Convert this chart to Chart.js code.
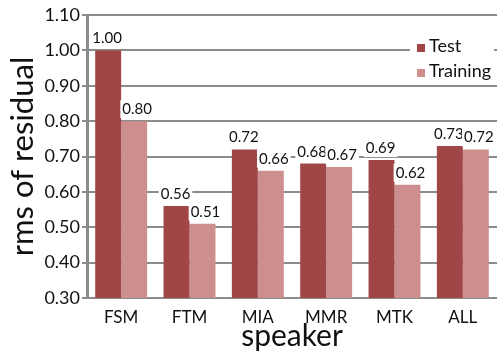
<!DOCTYPE html>
<html>
<head>
<meta charset="utf-8">
<script src="https://cdn.jsdelivr.net/npm/chart.js@4"></script>
<style>
  body { margin: 0; background: #fff; }
  #wrap { width: 497px; height: 354px; }
</style>
</head>
<body>
<div id="wrap"><canvas id="chart"></canvas></div>
<script>
const speakers = ["FSM", "FTM", "MIA", "MMR", "MTK", "ALL"];
const testVals = [1.00, 0.56, 0.72, 0.68, 0.69, 0.73];
const trainVals = [0.80, 0.51, 0.66, 0.67, 0.62, 0.72];
const yTicks = [0.30, 0.40, 0.50, 0.60, 0.70, 0.80, 0.90, 1.00, 1.10];

const fontFam = "Lato, 'Open Sans', sans-serif";
const gridGray = "#8c8c8c";

// value labels above the bars, on a white box
const labelPlugin = {
  id: "valueLabels",
  afterDatasetsDraw(chart) {
    const ctx = chart.ctx;
    ctx.save();
    ctx.font = "15px " + fontFam;
    ctx.textAlign = "center";
    ctx.textBaseline = "alphabetic";
    chart.data.datasets.forEach((ds, i) => {
      chart.getDatasetMeta(i).data.forEach((bar, j) => {
        const txt = ds.data[j].toFixed(2);
        const w = ctx.measureText(txt).width + 4;
        const x = bar.x + (i === 0 ? -1 : 3);
        const y = bar.y - 7;
        ctx.fillStyle = "#fff";
        ctx.fillRect(x - w / 2, y - 14, w, 18);
        ctx.fillStyle = "#111";
        ctx.fillText(txt, x, y);
      });
    });
    ctx.restore();
  }
};

// legend inside the plot, top right
const legendPlugin = {
  id: "boxLegend",
  afterDraw(chart) {
    const ctx = chart.ctx;
    const x0 = 410, y0 = 31;
    ctx.save();
    ctx.fillStyle = "#fff";
    ctx.fillRect(x0, y0, 84, 52);
    ctx.font = "18px " + fontFam;
    ctx.textBaseline = "middle";
    chart.data.datasets.forEach((ds, i) => {
      const y = y0 + 15 + i * 25;
      ctx.fillStyle = ds.backgroundColor;
      ctx.fillRect(x0 + 7, y - 2, 8, 8);
      ctx.fillStyle = "#111";
      ctx.fillText(ds.label, x0 + 19, y);
    });
    ctx.restore();
  }
};

new Chart(document.getElementById("chart"), {
  type: "bar",
  data: {
    labels: speakers,
    datasets: [
      { label: "Test", data: testVals, backgroundColor: "#a04646" },
      { label: "Training", data: trainVals, backgroundColor: "#cd8e8e" }
    ]
  },
  options: {
    responsive: true,
    maintainAspectRatio: false,
    animation: false,
    layout: { padding: { top: 15, right: 0, left: 0, bottom: 0 } },
    datasets: { bar: { categoryPercentage: 0.76, barPercentage: 1.0 } },
    plugins: {
      legend: { display: false },
      tooltip: { enabled: false }
    },
    scales: {
      x: {
        grid: { display: false, drawTicks: false },
        border: { display: false },
        ticks: { color: "#111", font: { family: fontFam, size: 17 }, padding: 9 },
        title: { display: true, text: "speaker", color: "#111", font: { family: fontFam, size: 30 }, padding: { top: 0, bottom: 0 } },
        afterFit: s => { s.height = 56; }
      },
      y: {
        min: 0.30,
        max: 1.10,
        afterBuildTicks: s => { s.ticks = yTicks.map(v => ({ value: v })); },
        ticks: {
          color: "#111",
          font: { family: fontFam, size: 18 },
          padding: 2,
          callback: v => Number(v).toFixed(2)
        },
        grid: { color: gridGray, lineWidth: 2, drawTicks: true, tickLength: 5 },
        border: { color: gridGray, width: 3 },
        title: { display: true, text: "rms of residual", color: "#111", font: { family: fontFam, size: 31 }, padding: { top: 4, bottom: 0 } },
        afterFit: s => { s.width = 87; }
      }
    }
  },
  plugins: [labelPlugin, legendPlugin]
});
</script>
</body>
</html>
